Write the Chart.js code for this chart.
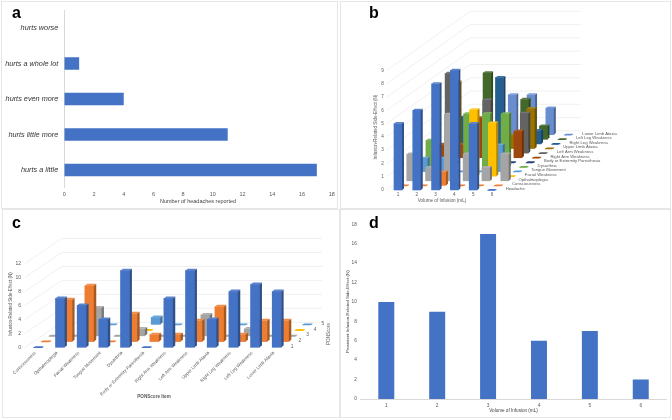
<!DOCTYPE html>
<html>
<head>
<meta charset="utf-8">
<script src="https://cdn.jsdelivr.net/npm/chart.js@4"></script>
<style>
    html, body { margin: 0; padding: 0; background: #fff; width: 672px; height: 420px; overflow: hidden; }
    canvas { position: absolute; }
    .frame { position: absolute; box-sizing: border-box; border: 1px solid #e6e6e6; }
    .letter { position: absolute; font: bold 16px "Liberation Sans", sans-serif; color: #000; line-height: 16px; }
</style>
</head>
<body>
<div class="frame" style="left:1px;top:1px;width:337px;height:208px"></div>
<div class="frame" style="left:340px;top:1px;width:331px;height:208px"></div>
<div class="frame" style="left:2px;top:209px;width:338px;height:209px"></div>
<div class="frame" style="left:340px;top:209px;width:331px;height:209px"></div>

<canvas id="chartA" width="339" height="209" style="left:0;top:0"></canvas>
<canvas id="chartB" width="332" height="209" style="left:340px;top:0"></canvas>
<canvas id="chartC" width="340" height="211" style="left:0;top:209px"></canvas>
<canvas id="chartD" width="332" height="211" style="left:340px;top:209px"></canvas>

<div class="letter" style="left:12px;top:5px">a</div>
<div class="letter" style="left:369px;top:5px">b</div>
<div class="letter" style="left:12px;top:215px">c</div>
<div class="letter" style="left:369px;top:215px">d</div>

<script>
const FONT = '"Liberation Sans", sans-serif';
const BLUE = '#4472C4';
const TEXT = '#595959';

// Panel a
const painLabels = ['hurts a little', 'hurts little more', 'hurts even more', 'hurts a whole lot', 'hurts worse'];
const painCounts = [17, 11, 4, 1, 0];

// Panel b, one list per depth row, front to back
const volumes = [1, 2, 3, 4, 5, 6];
const sideEffectNames = ['Headache', 'Consciousness', 'Opthalmoplegia', 'Facial Weakness', 'Tongue Movement',
    'Dysarthria', 'Body or Extremity Paresthesia', 'Right Arm Weakness', 'Left Arm Weakness',
    'Upper Limb Ataxia', 'Right Leg Weakness', 'Left Leg Weakness', 'Lower Limb Ataxia'];
const headache = [5, 6, 8, 9, 5, 0];
const consciousness = [0, 0, 1, 0, 0, 0];
const opthalmoplegia = [2, 1, 5, 2, 1, 2];
const facialWeakness = [0, 0, 0, 5, 4, 0];
const tongueMovement = [1, 1, 0, 0, 2, 0];
const dysarthria = [2, 0, 4, 4, 4, 0];
const paresthesia = [0, 0, 0, 0, 0, 0];
const rightArm = [1, 1, 3, 0, 2, 0];
const leftArm = [6, 0, 4, 0, 3, 0];
const upperLimb = [5, 0, 0, 1, 3, 0];
const rightLeg = [2, 0, 5, 0, 1, 0];
const leftLeg = [0, 5, 0, 3, 1, 0];
const lowerLimb = [0, 0, 3, 3, 2, 0];
const sideEffectColors = ['#4472C4', '#ED7D31', '#A5A5A5', '#FFC000', '#5B9BD5', '#70AD47', '#264478',
    '#9E480E', '#636363', '#997300', '#255E91', '#43682B', '#698ED0'];

// Panel c, one list per PONScore
const ponItems = ['Consciousness', 'Opthalmoplegia', 'Facial Weakness', 'Tongue Movement', 'Dysarthria',
    'Body or Extremity Paresthesia', 'Right Arm Weakness', 'Left Arm Weakness', 'Upper Limb Ataxia',
    'Right Leg Weakness', 'Left Leg Weakness', 'Lower Limb Ataxia'];
const ponScoreNames = ['1', '2', '3', '4', '5'];
const ponScore1 = [0, 7, 6, 4, 11, 0, 7, 11, 4, 8, 9, 8];
const ponScore2 = [0, 6, 8, 0, 4, 1, 1, 3, 5, 1, 3, 3];
const ponScore3 = [0, 0, 4, 0, 1, 0, 0, 3, 0, 1, 0, 0];
const ponScore4 = [0, 0, 0, 0, 0, 0, 0, 0, 0, 0, 0, 0];
const ponScore5 = [0, 0, 0, 0, 1, 0, 0, 0, 0, 0, 0, 0];
const ponColors = ['#4472C4', '#ED7D31', '#A5A5A5', '#FFC000', '#5B9BD5'];

// Panel d
const persistentCounts = [10, 9, 17, 6, 7, 2];

function shade(hex, amount) {
    // amount > 0 goes to white, amount < 0 goes to black
    const n = parseInt(hex.slice(1), 16);
    const target = amount > 0 ? 255 : 0;
    const a = Math.abs(amount);
    const mix = c => Math.round(c + (target - c) * a);
    return `rgb(${mix(n >> 16)}, ${mix((n >> 8) & 255)}, ${mix(n & 255)})`;
}

function poly(ctx, pts, color) {
    ctx.fillStyle = color;
    ctx.beginPath();
    pts.forEach((p, i) => i ? ctx.lineTo(p[0], p[1]) : ctx.moveTo(p[0], p[1]));
    ctx.closePath();
    ctx.fill();
}

// Draws the back wall, the side and top of each bar and the loose labels
const bar3dPlugin = {
    id: 'bar3d',
    beforeDatasetsDraw(chart, args, opts) {
        const { x, y } = chart.scales;
        const ctx = chart.ctx;
        ctx.save();
        ctx.strokeStyle = '#ececec';
        ctx.lineWidth = 0.8;
        opts.wallValues.forEach(v => {
            ctx.beginPath();
            ctx.moveTo(x.getPixelForValue(opts.wallStart), y.getPixelForValue(v));
            ctx.lineTo(x.getPixelForValue(opts.wallStart + opts.wallX), y.getPixelForValue(v + opts.wallY));
            ctx.lineTo(x.getPixelForValue(opts.wallEnd), y.getPixelForValue(v + opts.wallY));
            ctx.stroke();
        });
        ctx.restore();
    },
    afterDatasetDraw(chart, args, opts) {
        const ctx = chart.ctx;
        const color = chart.data.datasets[args.index].backgroundColor;
        args.meta.data.forEach(bar => {
            const l = bar.x - bar.width / 2;
            const r = bar.x + bar.width / 2;
            const t = Math.min(bar.y, bar.base);
            const b = Math.max(bar.y, bar.base);
            if (b - t > 0.5) {
                poly(ctx, [[r, b], [r + opts.sideX, b - opts.sideY], [r + opts.sideX, t - opts.sideY], [r, t]], shade(color, -0.3));
                poly(ctx, [[l, t], [l + opts.sideX, t - opts.sideY], [r + opts.sideX, t - opts.sideY], [r, t]], shade(color, 0.12));
            } else {
                poly(ctx, [[l - 1, t + 0.8], [l + 1.5, t - 1], [r + 1, t - 1], [r - 1.5, t + 0.8]], color);
            }
        });
    },
    afterDraw(chart, args, opts) {
        const { x, y } = chart.scales;
        const ctx = chart.ctx;
        ctx.save();
        ctx.fillStyle = TEXT;
        ctx.textBaseline = 'middle';
        ctx.textAlign = 'left';
        ctx.font = `${opts.rowFont}px ${FONT}`;
        opts.rowNames.forEach((name, r) => {
            ctx.fillText(name,
                x.getPixelForValue(opts.rowX + r * opts.stepX),
                y.getPixelForValue(opts.rowY + r * opts.stepY));
        });
        ctx.textAlign = 'center';
        opts.titles.forEach(t => {
            ctx.save();
            ctx.translate(t.x, t.y);
            ctx.rotate(t.rotate || 0);
            ctx.font = `${t.bold ? 'bold ' : ''}${t.size}px ${FONT}`;
            ctx.fillText(t.text, 0, 0);
            ctx.restore();
        });
        ctx.restore();
    }
};

function depthDatasets(rows, colors, stepX, stepY, thickness) {
    return rows.map((row, r) => ({
        data: row.map((v, i) => ({
            x: i + 1 + r * stepX,
            y: [r * stepY, v + r * stepY]
        })),
        backgroundColor: colors[r],
        barThickness: thickness,
        grouped: false,
        clip: false
    }));
}

function flatFont(size) {
    return { family: FONT, size: size };
}

const noGrid = { display: false, drawTicks: false };

// a: horizontal bars
new Chart(document.getElementById('chartA'), {
    type: 'bar',
    data: {
        labels: painLabels,
        datasets: [{ data: painCounts, backgroundColor: BLUE, barPercentage: 0.35, categoryPercentage: 1 }]
    },
    options: {
        indexAxis: 'y',
        responsive: false,
        animation: false,
        layout: { padding: { top: 6, right: 7.3 } },
        plugins: { legend: { display: false }, tooltip: { enabled: false } },
        scales: {
            x: {
                min: 0,
                max: 18,
                grid: noGrid,
                border: { display: false },
                ticks: { stepSize: 2, padding: 3, maxRotation: 0, color: TEXT, font: flatFont(5.5) },
                title: {
                    display: true,
                    text: 'Number of headaches reported',
                    color: '#444',
                    font: flatFont(5.5),
                    padding: { top: 0, bottom: 4.7 }
                },
                afterFit: s => { s.height = 21.3; }
            },
            y: {
                reverse: true,
                grid: noGrid,
                border: { color: '#d9d9d9' },
                ticks: { padding: 6, color: '#333', font: { family: FONT, size: 7.3, style: 'italic' } },
                afterFit: s => { s.width = 64.3; }
            }
        }
    }
});

// b: 3D bars, volume against side effect
const stepXB = 0.34;
const stepYB = 0.347;
new Chart(document.getElementById('chartB'), {
    type: 'bar',
    plugins: [bar3dPlugin],
    data: {
        datasets: depthDatasets([headache, consciousness, opthalmoplegia, facialWeakness, tongueMovement, dysarthria,
            paresthesia, rightArm, leftArm, upperLimb, rightLeg, leftLeg, lowerLimb], sideEffectColors, stepXB, stepYB, 8)
    },
    options: {
        responsive: false,
        animation: false,
        plugins: {
            legend: { display: false },
            tooltip: { enabled: false },
            bar3d: {
                sideX: 2, sideY: 1.6,
                wallValues: [0, 1, 2, 3, 4, 5, 6, 7, 8, 9],
                wallStart: 0.4, wallX: 4.44, wallY: 4.45, wallEnd: 10.73,
                rowNames: sideEffectNames, rowFont: 4.2, rowX: 6.73, rowY: 0.1, stepX: stepXB, stepY: stepYB,
                titles: [
                    { text: 'Infusion-Related Side-Effect (N)', x: 36, y: 127, size: 4.6, rotate: -Math.PI / 2 },
                    { text: 'Volume of Infusion (mL)', x: 102, y: 201, size: 4.6 }
                ]
            }
        },
        scales: {
            x: {
                type: 'linear',
                offset: false,
                min: 0.4,
                max: 15.58,
                grid: noGrid,
                border: { display: false },
                afterBuildTicks: s => { s.ticks = volumes.map(v => ({ value: v })); },
                ticks: { padding: 2, maxRotation: 0, autoSkip: false, color: TEXT, font: flatFont(4.6) },
                afterFit: s => { s.height = 19; }
            },
            y: {
                min: 0,
                max: 13.87,
                grid: noGrid,
                border: { display: false },
                afterBuildTicks: s => { s.ticks = [0, 1, 2, 3, 4, 5, 6, 7, 8, 9].map(v => ({ value: v })); },
                ticks: { padding: 3, color: TEXT, font: flatFont(4.6) },
                afterFit: s => { s.width = 46.7; }
            }
        }
    }
});

// c: 3D bars, PONScore item against score
const stepXC = 0.354;
const stepYC = 0.82;
new Chart(document.getElementById('chartC'), {
    type: 'bar',
    plugins: [bar3dPlugin],
    data: {
        datasets: depthDatasets([ponScore1, ponScore2, ponScore3, ponScore4, ponScore5], ponColors, stepXC, stepYC, 9)
    },
    options: {
        responsive: false,
        animation: false,
        plugins: {
            legend: { display: false },
            tooltip: { enabled: false },
            bar3d: {
                sideX: 2.4, sideY: 1.8,
                wallValues: [0, 2, 4, 6, 8, 10, 12],
                wallStart: 0.385, wallX: 1.69, wallY: 3.57, wallEnd: 14.1,
                rowNames: ponScoreNames, rowFont: 4.8, rowX: 12.65, rowY: 0.1, stepX: stepXC, stepY: stepYC,
                titles: [
                    { text: 'Infusion-Related Side-Effect (N)', x: 11, y: 95, size: 4.5, rotate: -Math.PI / 2 },
                    { text: 'PONScore Item', x: 154, y: 188, size: 4.6, bold: true },
                    { text: 'PONScore', x: 329, y: 125, size: 4.6, rotate: -Math.PI / 2 }
                ]
            }
        },
        scales: {
            x: {
                type: 'linear',
                offset: false,
                min: 0.385,
                max: 14.92,
                grid: noGrid,
                border: { display: false },
                afterBuildTicks: s => { s.ticks = ponItems.map((name, i) => ({ value: i + 1 })); },
                ticks: {
                    padding: 3,
                    labelOffset: -3,
                    minRotation: 45,
                    maxRotation: 45,
                    autoSkip: false,
                    color: TEXT,
                    font: flatFont(4.5),
                    callback: v => ponItems[v - 1]
                },
                afterFit: s => { s.height = 72.7; }
            },
            y: {
                min: 0,
                max: 18.79,
                grid: noGrid,
                border: { display: false },
                afterBuildTicks: s => { s.ticks = [0, 2, 4, 6, 8, 10, 12].map(v => ({ value: v })); },
                ticks: { padding: 4, color: TEXT, font: flatFont(5) },
                afterFit: s => { s.width = 25; }
            }
        }
    }
});

// d: vertical bars
new Chart(document.getElementById('chartD'), {
    type: 'bar',
    data: {
        labels: volumes,
        datasets: [{ data: persistentCounts, backgroundColor: BLUE, barPercentage: 0.314, categoryPercentage: 1 }]
    },
    options: {
        responsive: false,
        animation: false,
        layout: { padding: { top: 15.3, right: 5.8 } },
        plugins: { legend: { display: false }, tooltip: { enabled: false } },
        scales: {
            x: {
                grid: noGrid,
                border: { color: '#d9d9d9' },
                ticks: { padding: 3.5, maxRotation: 0, color: TEXT, font: flatFont(4.8) },
                title: {
                    display: true,
                    text: 'Volume of Infusion (mL)',
                    color: '#444',
                    font: flatFont(4.6),
                    padding: { top: 0, bottom: 6.2 }
                },
                afterFit: s => { s.height = 21; }
            },
            y: {
                min: 0,
                max: 18,
                grid: noGrid,
                border: { display: false },
                ticks: { stepSize: 2, padding: 4, color: TEXT, font: flatFont(4.8) },
                title: {
                    display: true,
                    text: 'Persistent Infusion-Related Side-Effect (N)',
                    color: '#444',
                    font: flatFont(4.4),
                    padding: { top: 5.4, bottom: 0 }
                },
                afterFit: s => { s.width = 20.85; }
            }
        }
    }
});
</script>
</body>
</html>
